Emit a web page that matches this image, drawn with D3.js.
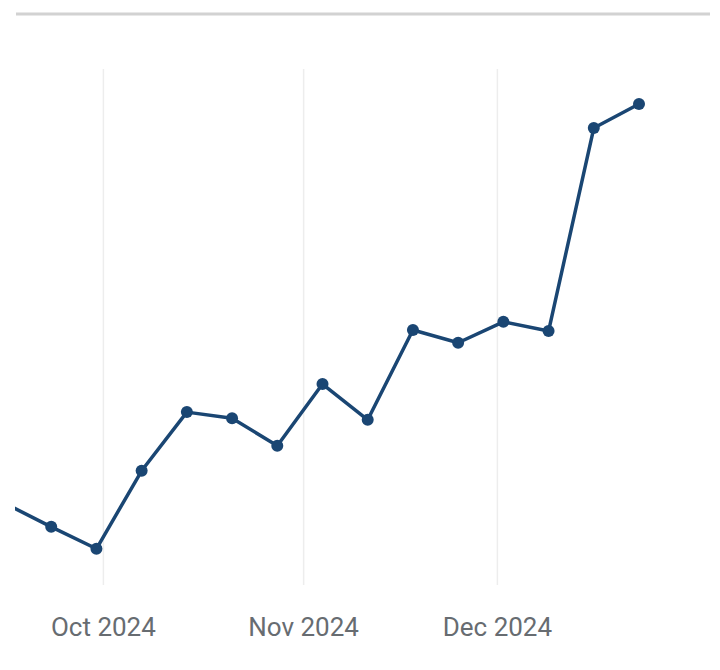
<!DOCTYPE html>
<html lang="en">
  <head>
    <meta charset="UTF-8" />
    <title>Weekly trend</title>
    <script src="https://d3js.org/d3.v7.min.js"></script>
    <style>
      body { margin: 0; background: #fff; }
    </style>
  </head>

  <body>
    <svg width="720" height="670"></svg>
    <script>
      // weekly points, Sep 16 – Dec 23 2024
      const weeks = [
        "2024-09-16", "2024-09-23", "2024-09-30", "2024-10-07", "2024-10-14",
        "2024-10-21", "2024-10-28", "2024-11-04", "2024-11-11", "2024-11-18",
        "2024-11-25", "2024-12-02", "2024-12-09", "2024-12-16", "2024-12-23"
      ];
      const values = [15.9, 11.4, 7.1, 22.4, 33.9, 32.7, 27.3, 39.4, 32.4, 50.0, 47.5, 51.6, 49.8, 89.6, 94.3];
      const tickDates = ["2024-10-01", "2024-11-01", "2024-12-01"];

      const parse = d3.utcParse("%Y-%m-%d");
      const data = weeks.map((w, i) => ({ date: parse(w), value: values[i] }));

      const svg = d3.select("svg");
      const plotLeft = 15, plotRight = 712, plotTop = 69, plotBottom = 585;

      const x = d3.scaleUtc()
        .domain([parse(weeks[0]), parse(weeks[weeks.length - 1])])
        .range([6, 639]);
      const y = d3.scaleLinear().domain([0, 100]).range([585, 75]);

      // top rule
      svg.append("line")
        .attr("x1", 16).attr("x2", 710)
        .attr("y1", 14).attr("y2", 14)
        .attr("stroke", "#d2d2d2")
        .attr("stroke-width", 3);

      svg.append("clipPath").attr("id", "plot")
        .append("rect")
        .attr("x", plotLeft).attr("y", 0)
        .attr("width", plotRight - plotLeft).attr("height", 670);

      // vertical gridlines + month labels via axis
      const axis = d3.axisBottom(x)
        .tickValues(tickDates.map(parse))
        .tickSize(-(plotBottom - plotTop))
        .tickFormat(d3.utcFormat("%b %Y"));

      const ax = svg.append("g")
        .attr("transform", "translate(0," + plotBottom + ")")
        .call(axis);
      ax.select(".domain").remove();
      ax.selectAll(".tick line")
        .attr("stroke", "#ededed")
        .attr("stroke-width", 1.5);
      ax.selectAll(".tick text")
        .attr("fill", "#676c71")
        .attr("font-family", "Roboto, sans-serif")
        .attr("font-size", 26)
        .attr("dy", "0.35em")
        .attr("y", 42);

      const line = d3.line()
        .x((d) => x(d.date))
        .y((d) => y(d.value));

      const g = svg.append("g").attr("clip-path", "url(#plot)");

      g.append("path")
        .datum(data)
        .attr("fill", "none")
        .attr("stroke", "#1a4673")
        .attr("stroke-width", 3.5)
        .attr("stroke-linejoin", "round")
        .attr("d", line);

      g.selectAll("circle")
        .data(data)
        .join("circle")
        .attr("cx", (d) => x(d.date))
        .attr("cy", (d) => y(d.value))
        .attr("r", 6)
        .attr("fill", "#1a4673");
    </script>
  </body>
</html>
